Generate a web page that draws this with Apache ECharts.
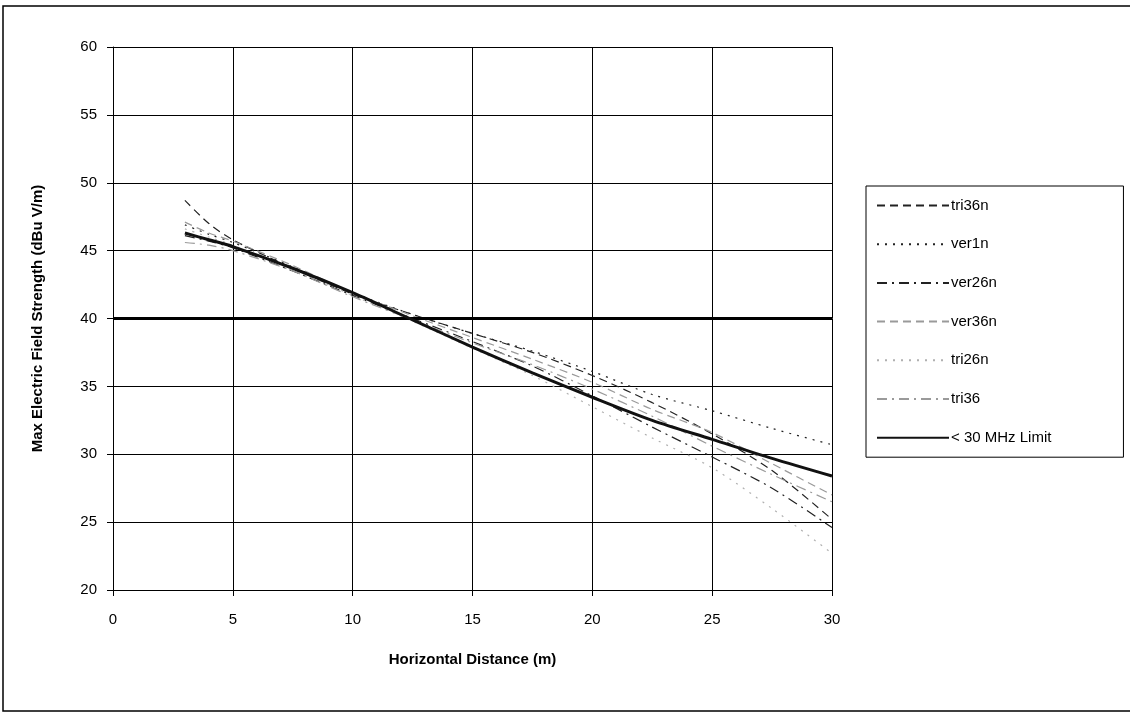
<!DOCTYPE html>
<html>
<head>
<meta charset="utf-8">
<script src="https://cdn.jsdelivr.net/npm/echarts@6/dist/echarts.min.js"></script>
<style>
  html, body { margin: 0; padding: 0; background: #fff; }
  #main { width: 1130px; height: 713px; }
</style>
</head>
<body>
<div id="main"></div>
<script>
// distances (m) where the curves are sampled
var distance = [3, 4, 5, 7.5, 10, 12.5, 15, 17.5, 20, 22.5, 25, 27.5, 30];

var tri36n = [48.7, 47.0, 45.8, 43.7, 41.8, 40.3, 38.9, 37.5, 35.8, 33.8, 31.5, 28.8, 25.2];
var ver1n  = [46.9, 46.2, 45.6, 43.8, 41.9, 40.3, 38.9, 37.6, 36.1, 34.4, 33.2, 31.9, 30.7];
var ver26n = [46.1, 45.7, 45.2, 43.5, 41.7, 40.0, 38.3, 36.5, 34.3, 32.0, 29.8, 27.5, 24.6];
var ver36n = [47.1, 46.3, 45.7, 43.9, 41.9, 40.2, 38.6, 37.0, 35.3, 33.3, 31.6, 29.3, 27.0];
var tri26n = [46.6, 46.0, 45.4, 43.6, 41.7, 39.8, 37.8, 35.8, 33.5, 31.2, 29.0, 26.0, 22.7];
var tri36  = [45.6, 45.4, 45.0, 43.5, 41.6, 39.9, 38.2, 36.6, 34.8, 32.8, 30.6, 28.5, 26.5];
var limit  = [46.3, 45.8, 45.3, 43.7, 41.9, 39.9, 37.9, 36.0, 34.2, 32.5, 31.1, 29.7, 28.4];

var refLevel = 40;

function pairs(vals) {
  var arr = [];
  for (let i = 0; i < vals.length; i++) arr.push([distance[i], vals[i]]);
  return arr;
}

var dark = '#222';
var gray = '#9a9a9a';
var font = '"Liberation Sans", Arial, sans-serif';

function mk(name, vals, color, type, width) {
  return {
    name: name,
    type: 'line',
    data: pairs(vals),
    symbol: 'none',
    smooth: 0.3,
    lineStyle: { color: color, type: type, width: width },
    itemStyle: { color: color }
  };
}

var chart = echarts.init(document.getElementById('main'));
var option = {
  animation: false,
  backgroundColor: '#fff',
  textStyle: { fontFamily: font },
  grid: { left: 113, top: 47, right: 298, bottom: 123 },
  xAxis: {
    type: 'value', min: 0, max: 30, interval: 5,
    name: 'Horizontal Distance (m)',
    nameLocation: 'middle', nameGap: 62,
    nameTextStyle: { fontSize: 15, fontWeight: 'bold', color: '#000', fontFamily: font },
    axisLine: { lineStyle: { color: '#000', width: 1 } },
    axisTick: { show: true, length: 6, lineStyle: { color: '#000' } },
    axisLabel: { fontSize: 15, color: '#000', margin: 22, fontFamily: font },
    splitLine: { show: true, lineStyle: { color: '#000', width: 1 } }
  },
  yAxis: {
    type: 'value', min: 20, max: 60, interval: 5,
    name: 'Max Electric Field Strength (dBu V/m)',
    nameLocation: 'middle', nameGap: 68, nameRotate: 90,
    nameTextStyle: { fontSize: 15, fontWeight: 'bold', color: '#000', fontFamily: font },
    axisLine: { show: true, lineStyle: { color: '#000', width: 1 } },
    axisTick: { show: true, length: 6, lineStyle: { color: '#000' } },
    axisLabel: { fontSize: 15, color: '#000', margin: 16, fontFamily: font },
    splitLine: { show: true, lineStyle: { color: '#000', width: 1 } }
  },
  legend: {
    orient: 'vertical',
    left: 866, top: 186,
    padding: [12, 72, 12, 10],
    borderColor: '#000', borderWidth: 1,
    itemWidth: 72, itemHeight: 14, itemGap: 23.7,
    itemStyle: { opacity: 0 },
    textStyle: { fontSize: 15, color: '#000', fontFamily: font, padding: [0, 0, 0, -3] },
    data: ['tri36n', 'ver1n', 'ver26n', 'ver36n', 'tri26n', 'tri36', '< 30 MHz Limit']
  },
  series: [
    mk('tri36n', tri36n, dark, [8, 5], 1.2),
    mk('ver1n', ver1n, dark, [2, 6], 1.2),
    mk('ver26n', ver26n, dark, [10, 5, 2, 5], 1.2),
    mk('ver36n', ver36n, gray, [8, 5], 1.2),
    mk('tri26n', tri26n, '#b0b0b0', [2, 6], 1.2),
    mk('tri36', tri36, gray, [10, 5, 2, 5], 1.2),
    Object.assign(mk('< 30 MHz Limit', limit, '#111', 'solid', 3), {
      z: 5,
      markLine: {
        silent: true, symbol: 'none', label: { show: false },
        lineStyle: { color: '#000', type: 'solid', width: 3 },
        data: [{ yAxis: refLevel }]
      }
    })
  ],
  graphic: [{
    type: 'polyline',
    shape: { points: [[1130, 6], [3, 6], [3, 711], [1130, 711]] },
    style: { stroke: '#000', lineWidth: 1.5, fill: null },
    silent: true
  }]
};
chart.setOption(option);
</script>
</body>
</html>
